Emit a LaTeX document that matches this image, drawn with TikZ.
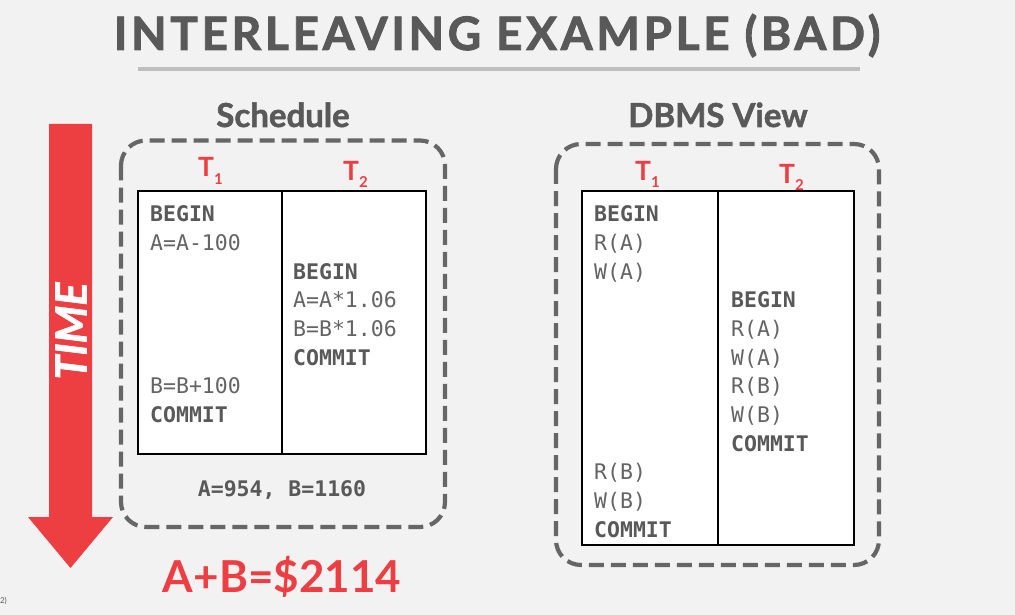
\documentclass[tikz,border=0pt]{standalone}
\usepackage{fontspec}
\setmainfont{Lato}
\setmonofont{DejaVu Sans Mono}
\definecolor{bg}{RGB}{242,242,242}
\definecolor{txtgray}{RGB}{89,89,89}
\definecolor{codegray}{RGB}{100,100,100}
\definecolor{boxgray}{RGB}{102,102,102}
\definecolor{rulegray}{RGB}{190,190,190}
\definecolor{tred}{RGB}{237,62,66}
\newcommand{\tsub}[1]{T\raisebox{-0.27em}{\fontsize{15}{15}\selectfont #1}}
\tikzset{
  heading/.style={font=\fontsize{33}{33}\selectfont\bfseries\addfontfeatures{FakeBold=1.6}, text=txtgray, inner sep=0, anchor=base},
  code/.style={font=\ttfamily\fontsize{21.5}{21.5}\selectfont, text=codegray, anchor=base west, inner sep=0},
  codeb/.style={font=\ttfamily\bfseries\fontsize{21.5}{21.5}\selectfont, text=txtgray, anchor=base west, inner sep=0},
  tlabel/.style={text=tred, font=\fontsize{26.5}{26.5}\selectfont\bfseries, anchor=base west, inner sep=0},
  dashbox/.style={draw=boxgray, line width=4.2pt, dash pattern=on 15pt off 7pt, rounded corners=25pt},
  table/.style={draw=black, line width=1.3pt, fill=white},
}
\begin{document}
\begin{tikzpicture}[x=1pt,y=-1pt]
  % canvas
  \fill[bg] (0,0) rectangle (1015,615);
  \useasboundingbox (0,0) rectangle (1015,615);

  % title and rule
  \node[inner sep=0, anchor=base, text=txtgray,
        font=\fontsize{46}{46}\selectfont\bfseries\addfontfeatures{LetterSpace=8,FakeBold=2}]
        (title) at (497,50) {INTERLEAVING EXAMPLE (BAD)};
  \fill[rulegray] (138,67.5) rectangle (860,71);

  % time arrow
  \fill[tred] (49,124) -- (92,124) -- (92,517) -- (113,517) -- (70.5,568)
              -- (28,517) -- (49,517) -- cycle;
  \node[rotate=90, text=white, inner sep=0,
        font=\fontsize{43}{43}\selectfont\bfseries\itshape\addfontfeatures{FakeBold=1.5}] (time) at (71,331) {TIME};

  % ---------- schedule ----------
  \node[heading] (sched) at (283,127) {Schedule};
  \draw[dashbox] (121,140.5) rectangle (445,527);
  \node[tlabel] (lt1) at (198,177) {\tsub{1}};
  \node[tlabel] (lt2) at (343,180) {\tsub{2}};
  \draw[table] (138,191) rectangle (426,454);
  \draw[line width=1.3pt] (282,191) -- (282,454);

  \node[codeb] (la1) at (150,222) {BEGIN};
  \node[code]  (la2) at (150,{222+28.65*1}) {A=A-100};
  \node[code]  (la3) at (150,{222+28.65*6}) {B=B+100};
  \node[codeb] (la4) at (150,{222+28.65*7}) {COMMIT};
  \node[codeb] (lb1) at (293,{222+28.65*2}) {BEGIN};
  \node[code]  (lb2) at (293,{222+28.65*3}) {A=A*1.06};
  \node[code]  (lb3) at (293,{222+28.65*4}) {B=B*1.06};
  \node[codeb] (lb4) at (293,{222+28.65*5}) {COMMIT};
  \node[codeb, anchor=base] (res) at (282,496) {A=954, B=1160};

  \node[inner sep=0, anchor=base, text=tred,
        font=\fontsize{44}{44}\selectfont\bfseries] (sum) at (282,592) {A+B=\$2114};

  % ---------- DBMS view ----------
  \node[heading] (dbms) at (718,127) {DBMS View};
  \draw[dashbox] (556,144) rectangle (879,565);
  \node[tlabel] (rt1) at (635,180) {\tsub{1}};
  \node[tlabel] (rt2) at (779,183) {\tsub{2}};
  \draw[table] (582,191) rectangle (854,545);
  \draw[line width=1.3pt] (718,191) -- (718,545);

  \node[codeb] (ra1) at (594,222) {BEGIN};
  \node[code]  (ra2) at (594,{222+28.65*1}) {R(A)};
  \node[code]  (ra3) at (594,{222+28.65*2}) {W(A)};
  \node[code]  (ra4) at (594,{222+28.65*9}) {R(B)};
  \node[code]  (ra5) at (594,{222+28.65*10}) {W(B)};
  \node[codeb] (ra6) at (594,{222+28.65*11}) {COMMIT};
  \node[codeb] (rb1) at (731,{222+28.65*3}) {BEGIN};
  \node[code]  (rb2) at (731,{222+28.65*4}) {R(A)};
  \node[code]  (rb3) at (731,{222+28.65*5}) {W(A)};
  \node[code]  (rb4) at (731,{222+28.65*6}) {R(B)};
  \node[code]  (rb5) at (731,{222+28.65*7}) {W(B)};
  \node[codeb] (rb6) at (731,{222+28.65*8}) {COMMIT};

  % page marker
  \node[inner sep=0, anchor=base east, text=txtgray, font=\fontsize{8}{8}\selectfont] (pg) at (7,603) {2)};
\end{tikzpicture}
\end{document}
